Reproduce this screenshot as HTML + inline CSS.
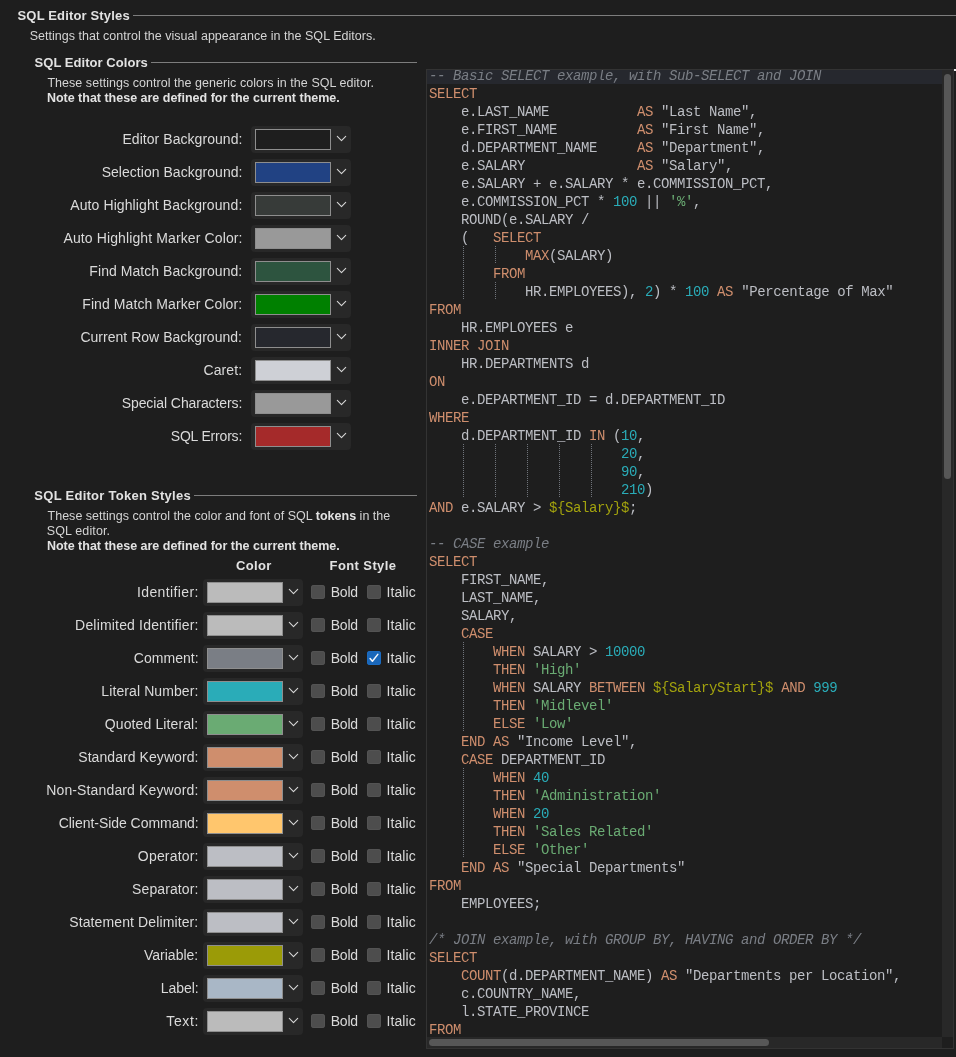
<!DOCTYPE html>
<html><head><meta charset="utf-8"><title>SQL Editor Styles</title>
<style>
html,body{margin:0;padding:0;}
html{background:#1e1e1e;}
body{width:956px;height:1057px;background:#1e1e1e;position:relative;overflow:hidden;will-change:transform;
 font-family:"Liberation Sans",sans-serif;font-size:13px;color:#dcdcdc;}
.t{position:absolute;white-space:nowrap;line-height:16px;height:16px;}
.h{font-weight:bold;color:#e2e2e2;font-size:13px;}
.d{font-size:12.5px;color:#d4d4d4;}
.d b{color:#e2e2e2;}
.db{font-size:12.5px;font-weight:bold;color:#e2e2e2;}
.l{font-size:14px;color:#dadada;}
.cl{font-size:14px;color:#dadada;}
.ln{position:absolute;height:1px;background:#7d7d7d;}
.cb{position:absolute;width:100px;height:27px;background:#282828;border-radius:4px;}
.sw{position:absolute;left:4px;top:3px;width:74px;height:19px;border:1px solid #8e8e8e;}
.cb svg{position:absolute;left:85px;top:9px;}
.ck{position:absolute;width:14px;height:14px;border-radius:3px;background:#4d4d4d;box-shadow:inset 0 0 0 1px #535353;}
.ck.on{background:#1a67b9;box-shadow:inset 0 0 0 1px #1b6cc2;}
.ck svg{position:absolute;left:0;top:0;}
#ed{position:absolute;left:426px;top:69px;width:526px;height:978px;border:1px solid #333333;overflow:hidden;background:#1e1e1e;}
#code{position:absolute;left:2px;top:-3px;margin:0;font-family:"Liberation Mono",monospace;font-size:14px;letter-spacing:-0.4px;line-height:18px;color:#bcbec4;}
#code div{height:18px;white-space:pre;}
.row{position:absolute;left:0;top:0;width:515px;height:14px;background:#26282e;}
.k{color:#cf8e6d;}.n{color:#2aacb8;}.s{color:#6aab73;}.c{color:#7a7e85;font-style:italic;}.v{color:#a2a20e;}
.g{position:absolute;width:1px;background-image:linear-gradient(to bottom,#70747b 50%,transparent 50%);background-size:1px 2px;}
.vs{position:absolute;left:515px;top:0;width:11px;height:967px;background:#282828;}
.hs{position:absolute;left:0;top:967px;width:515px;height:11px;background:#282828;}
.vt{position:absolute;left:2px;top:4px;width:7px;height:405px;border-radius:4px;background:#575757;}
.ht{position:absolute;left:2px;top:2px;width:340px;height:7px;border-radius:4px;background:#575757;}
</style></head><body>
<div class="t h" style="left:17.55px;top:8px;letter-spacing:0.157px">SQL Editor Styles</div>
<div class="ln" style="left:133px;top:15px;width:823px"></div>
<div class="t d" style="left:29.65px;top:28px;letter-spacing:0.031px">Settings that control the visual appearance in the SQL Editors.</div>
<div class="t h" style="left:34.60px;top:55px;letter-spacing:0.044px">SQL Editor Colors</div>
<div class="ln" style="left:151px;top:62px;width:266px"></div>
<div class="t d" style="left:47.38px;top:75px;letter-spacing:0.042px">These settings control the generic colors in the SQL editor.</div>
<div class="t db" style="left:46.88px;top:90px;letter-spacing:-0.005px">Note that these are defined for the current theme.</div>
<div class="t l" style="left:122.46px;top:131px;letter-spacing:0.052px">Editor Background:</div>
<div class="cb" style="left:251px;top:126px"><div class="sw" style="background:#1e1e1e"></div><svg width="11" height="7" viewBox="0 0 11 7"><path d="M1.3 1.4 L5.5 5.6 L9.7 1.4" fill="none" stroke="#d6d6d6" stroke-width="1.1" stroke-linecap="round" stroke-linejoin="round"/></svg></div>
<div class="t l" style="left:101.65px;top:164px;letter-spacing:0.036px">Selection Background:</div>
<div class="cb" style="left:251px;top:159px"><div class="sw" style="background:#214283"></div><svg width="11" height="7" viewBox="0 0 11 7"><path d="M1.3 1.4 L5.5 5.6 L9.7 1.4" fill="none" stroke="#d6d6d6" stroke-width="1.1" stroke-linecap="round" stroke-linejoin="round"/></svg></div>
<div class="t l" style="left:70.29px;top:197px;letter-spacing:0.093px">Auto Highlight Background:</div>
<div class="cb" style="left:251px;top:192px"><div class="sw" style="background:#373b39"></div><svg width="11" height="7" viewBox="0 0 11 7"><path d="M1.3 1.4 L5.5 5.6 L9.7 1.4" fill="none" stroke="#d6d6d6" stroke-width="1.1" stroke-linecap="round" stroke-linejoin="round"/></svg></div>
<div class="t l" style="left:63.50px;top:230px;letter-spacing:0.115px">Auto Highlight Marker Color:</div>
<div class="cb" style="left:251px;top:225px"><div class="sw" style="background:#999999"></div><svg width="11" height="7" viewBox="0 0 11 7"><path d="M1.3 1.4 L5.5 5.6 L9.7 1.4" fill="none" stroke="#d6d6d6" stroke-width="1.1" stroke-linecap="round" stroke-linejoin="round"/></svg></div>
<div class="t l" style="left:89.37px;top:263px;letter-spacing:0.055px">Find Match Background:</div>
<div class="cb" style="left:251px;top:258px"><div class="sw" style="background:#2d543f"></div><svg width="11" height="7" viewBox="0 0 11 7"><path d="M1.3 1.4 L5.5 5.6 L9.7 1.4" fill="none" stroke="#d6d6d6" stroke-width="1.1" stroke-linecap="round" stroke-linejoin="round"/></svg></div>
<div class="t l" style="left:82.26px;top:296px;letter-spacing:0.084px">Find Match Marker Color:</div>
<div class="cb" style="left:251px;top:291px"><div class="sw" style="background:#008000"></div><svg width="11" height="7" viewBox="0 0 11 7"><path d="M1.3 1.4 L5.5 5.6 L9.7 1.4" fill="none" stroke="#d6d6d6" stroke-width="1.1" stroke-linecap="round" stroke-linejoin="round"/></svg></div>
<div class="t l" style="left:80.44px;top:329px;letter-spacing:0.020px">Current Row Background:</div>
<div class="cb" style="left:251px;top:324px"><div class="sw" style="background:#26282e"></div><svg width="11" height="7" viewBox="0 0 11 7"><path d="M1.3 1.4 L5.5 5.6 L9.7 1.4" fill="none" stroke="#d6d6d6" stroke-width="1.1" stroke-linecap="round" stroke-linejoin="round"/></svg></div>
<div class="t l" style="left:203.46px;top:362px;letter-spacing:0.088px">Caret:</div>
<div class="cb" style="left:251px;top:357px"><div class="sw" style="background:#ced0d6"></div><svg width="11" height="7" viewBox="0 0 11 7"><path d="M1.3 1.4 L5.5 5.6 L9.7 1.4" fill="none" stroke="#d6d6d6" stroke-width="1.1" stroke-linecap="round" stroke-linejoin="round"/></svg></div>
<div class="t l" style="left:121.70px;top:395px;letter-spacing:-0.080px">Special Characters:</div>
<div class="cb" style="left:251px;top:390px"><div class="sw" style="background:#999999"></div><svg width="11" height="7" viewBox="0 0 11 7"><path d="M1.3 1.4 L5.5 5.6 L9.7 1.4" fill="none" stroke="#d6d6d6" stroke-width="1.1" stroke-linecap="round" stroke-linejoin="round"/></svg></div>
<div class="t l" style="left:170.72px;top:428px;letter-spacing:-0.177px">SQL Errors:</div>
<div class="cb" style="left:251px;top:423px"><div class="sw" style="background:#a52a2a"></div><svg width="11" height="7" viewBox="0 0 11 7"><path d="M1.3 1.4 L5.5 5.6 L9.7 1.4" fill="none" stroke="#d6d6d6" stroke-width="1.1" stroke-linecap="round" stroke-linejoin="round"/></svg></div>
<div class="t h" style="left:34.35px;top:488px;letter-spacing:0.264px">SQL Editor Token Styles</div>
<div class="ln" style="left:194px;top:495px;width:223px"></div>
<div class="t d" style="left:47.56px;top:508px;letter-spacing:0.010px">These settings control the color and font of SQL <b>tokens</b> in the</div>
<div class="t d" style="left:46.83px;top:523px;letter-spacing:0.114px">SQL editor.</div>
<div class="t db" style="left:46.88px;top:538px;letter-spacing:-0.005px">Note that these are defined for the current theme.</div>
<div class="t h" style="left:235.98px;top:558px;letter-spacing:0.330px">Color</div>
<div class="t h" style="left:329.61px;top:558px;letter-spacing:0.390px">Font Style</div>
<div class="t l" style="left:137.04px;top:584px;letter-spacing:0.368px">Identifier:</div>
<div class="cb" style="left:203px;top:579px"><div class="sw" style="background:#bbbbbb"></div><svg width="11" height="7" viewBox="0 0 11 7"><path d="M1.3 1.4 L5.5 5.6 L9.7 1.4" fill="none" stroke="#d6d6d6" stroke-width="1.1" stroke-linecap="round" stroke-linejoin="round"/></svg></div>
<div class="ck" style="left:311px;top:585px"></div>
<div class="t cl" style="left:330.66px;top:584px;letter-spacing:-0.173px">Bold</div>
<div class="ck" style="left:367px;top:585px"></div>
<div class="t cl" style="left:386.44px;top:584px;letter-spacing:0.114px">Italic</div>
<div class="t l" style="left:75.11px;top:617px;letter-spacing:0.177px">Delimited Identifier:</div>
<div class="cb" style="left:203px;top:612px"><div class="sw" style="background:#bbbbbb"></div><svg width="11" height="7" viewBox="0 0 11 7"><path d="M1.3 1.4 L5.5 5.6 L9.7 1.4" fill="none" stroke="#d6d6d6" stroke-width="1.1" stroke-linecap="round" stroke-linejoin="round"/></svg></div>
<div class="ck" style="left:311px;top:618px"></div>
<div class="t cl" style="left:330.66px;top:617px;letter-spacing:-0.173px">Bold</div>
<div class="ck" style="left:367px;top:618px"></div>
<div class="t cl" style="left:386.44px;top:617px;letter-spacing:0.114px">Italic</div>
<div class="t l" style="left:133.77px;top:650px;letter-spacing:0.039px">Comment:</div>
<div class="cb" style="left:203px;top:645px"><div class="sw" style="background:#7a7e85"></div><svg width="11" height="7" viewBox="0 0 11 7"><path d="M1.3 1.4 L5.5 5.6 L9.7 1.4" fill="none" stroke="#d6d6d6" stroke-width="1.1" stroke-linecap="round" stroke-linejoin="round"/></svg></div>
<div class="ck" style="left:311px;top:651px"></div>
<div class="t cl" style="left:330.66px;top:650px;letter-spacing:-0.173px">Bold</div>
<div class="ck on" style="left:367px;top:651px"><svg width="14" height="14" viewBox="0 0 14 14"><path d="M3.1 7.5 L5.4 10.2 L10.8 3.4" fill="none" stroke="#f4f7fb" stroke-width="1.5" stroke-linecap="round" stroke-linejoin="round"/></svg></div>
<div class="t cl" style="left:386.44px;top:650px;letter-spacing:0.114px">Italic</div>
<div class="t l" style="left:101.31px;top:683px;letter-spacing:0.101px">Literal Number:</div>
<div class="cb" style="left:203px;top:678px"><div class="sw" style="background:#2aacb8"></div><svg width="11" height="7" viewBox="0 0 11 7"><path d="M1.3 1.4 L5.5 5.6 L9.7 1.4" fill="none" stroke="#d6d6d6" stroke-width="1.1" stroke-linecap="round" stroke-linejoin="round"/></svg></div>
<div class="ck" style="left:311px;top:684px"></div>
<div class="t cl" style="left:330.66px;top:683px;letter-spacing:-0.173px">Bold</div>
<div class="ck" style="left:367px;top:684px"></div>
<div class="t cl" style="left:386.44px;top:683px;letter-spacing:0.114px">Italic</div>
<div class="t l" style="left:104.83px;top:716px;letter-spacing:0.108px">Quoted Literal:</div>
<div class="cb" style="left:203px;top:711px"><div class="sw" style="background:#6aab73"></div><svg width="11" height="7" viewBox="0 0 11 7"><path d="M1.3 1.4 L5.5 5.6 L9.7 1.4" fill="none" stroke="#d6d6d6" stroke-width="1.1" stroke-linecap="round" stroke-linejoin="round"/></svg></div>
<div class="ck" style="left:311px;top:717px"></div>
<div class="t cl" style="left:330.66px;top:716px;letter-spacing:-0.173px">Bold</div>
<div class="ck" style="left:367px;top:717px"></div>
<div class="t cl" style="left:386.44px;top:716px;letter-spacing:0.114px">Italic</div>
<div class="t l" style="left:78.22px;top:749px;letter-spacing:0.073px">Standard Keyword:</div>
<div class="cb" style="left:203px;top:744px"><div class="sw" style="background:#cf8e6d"></div><svg width="11" height="7" viewBox="0 0 11 7"><path d="M1.3 1.4 L5.5 5.6 L9.7 1.4" fill="none" stroke="#d6d6d6" stroke-width="1.1" stroke-linecap="round" stroke-linejoin="round"/></svg></div>
<div class="ck" style="left:311px;top:750px"></div>
<div class="t cl" style="left:330.66px;top:749px;letter-spacing:-0.173px">Bold</div>
<div class="ck" style="left:367px;top:750px"></div>
<div class="t cl" style="left:386.44px;top:749px;letter-spacing:0.114px">Italic</div>
<div class="t l" style="left:46.21px;top:782px;letter-spacing:0.140px">Non-Standard Keyword:</div>
<div class="cb" style="left:203px;top:777px"><div class="sw" style="background:#cf8e6d"></div><svg width="11" height="7" viewBox="0 0 11 7"><path d="M1.3 1.4 L5.5 5.6 L9.7 1.4" fill="none" stroke="#d6d6d6" stroke-width="1.1" stroke-linecap="round" stroke-linejoin="round"/></svg></div>
<div class="ck" style="left:311px;top:783px"></div>
<div class="t cl" style="left:330.66px;top:782px;letter-spacing:-0.173px">Bold</div>
<div class="ck" style="left:367px;top:783px"></div>
<div class="t cl" style="left:386.44px;top:782px;letter-spacing:0.114px">Italic</div>
<div class="t l" style="left:58.74px;top:815px;letter-spacing:-0.043px">Client-Side Command:</div>
<div class="cb" style="left:203px;top:810px"><div class="sw" style="background:#ffc66d"></div><svg width="11" height="7" viewBox="0 0 11 7"><path d="M1.3 1.4 L5.5 5.6 L9.7 1.4" fill="none" stroke="#d6d6d6" stroke-width="1.1" stroke-linecap="round" stroke-linejoin="round"/></svg></div>
<div class="ck" style="left:311px;top:816px"></div>
<div class="t cl" style="left:330.66px;top:815px;letter-spacing:-0.173px">Bold</div>
<div class="ck" style="left:367px;top:816px"></div>
<div class="t cl" style="left:386.44px;top:815px;letter-spacing:0.114px">Italic</div>
<div class="t l" style="left:137.85px;top:848px;letter-spacing:0.188px">Operator:</div>
<div class="cb" style="left:203px;top:843px"><div class="sw" style="background:#bcbec4"></div><svg width="11" height="7" viewBox="0 0 11 7"><path d="M1.3 1.4 L5.5 5.6 L9.7 1.4" fill="none" stroke="#d6d6d6" stroke-width="1.1" stroke-linecap="round" stroke-linejoin="round"/></svg></div>
<div class="ck" style="left:311px;top:849px"></div>
<div class="t cl" style="left:330.66px;top:848px;letter-spacing:-0.173px">Bold</div>
<div class="ck" style="left:367px;top:849px"></div>
<div class="t cl" style="left:386.44px;top:848px;letter-spacing:0.114px">Italic</div>
<div class="t l" style="left:132.11px;top:881px;letter-spacing:0.088px">Separator:</div>
<div class="cb" style="left:203px;top:876px"><div class="sw" style="background:#bcbec4"></div><svg width="11" height="7" viewBox="0 0 11 7"><path d="M1.3 1.4 L5.5 5.6 L9.7 1.4" fill="none" stroke="#d6d6d6" stroke-width="1.1" stroke-linecap="round" stroke-linejoin="round"/></svg></div>
<div class="ck" style="left:311px;top:882px"></div>
<div class="t cl" style="left:330.66px;top:881px;letter-spacing:-0.173px">Bold</div>
<div class="ck" style="left:367px;top:882px"></div>
<div class="t cl" style="left:386.44px;top:881px;letter-spacing:0.114px">Italic</div>
<div class="t l" style="left:69.18px;top:914px;letter-spacing:0.117px">Statement Delimiter:</div>
<div class="cb" style="left:203px;top:909px"><div class="sw" style="background:#bcbec4"></div><svg width="11" height="7" viewBox="0 0 11 7"><path d="M1.3 1.4 L5.5 5.6 L9.7 1.4" fill="none" stroke="#d6d6d6" stroke-width="1.1" stroke-linecap="round" stroke-linejoin="round"/></svg></div>
<div class="ck" style="left:311px;top:915px"></div>
<div class="t cl" style="left:330.66px;top:914px;letter-spacing:-0.173px">Bold</div>
<div class="ck" style="left:367px;top:915px"></div>
<div class="t cl" style="left:386.44px;top:914px;letter-spacing:0.114px">Italic</div>
<div class="t l" style="left:144.03px;top:947px;letter-spacing:-0.000px">Variable:</div>
<div class="cb" style="left:203px;top:942px"><div class="sw" style="background:#9b9b07"></div><svg width="11" height="7" viewBox="0 0 11 7"><path d="M1.3 1.4 L5.5 5.6 L9.7 1.4" fill="none" stroke="#d6d6d6" stroke-width="1.1" stroke-linecap="round" stroke-linejoin="round"/></svg></div>
<div class="ck" style="left:311px;top:948px"></div>
<div class="t cl" style="left:330.66px;top:947px;letter-spacing:-0.173px">Bold</div>
<div class="ck" style="left:367px;top:948px"></div>
<div class="t cl" style="left:386.44px;top:947px;letter-spacing:0.114px">Italic</div>
<div class="t l" style="left:160.66px;top:980px;letter-spacing:-0.035px">Label:</div>
<div class="cb" style="left:203px;top:975px"><div class="sw" style="background:#a9b7c6"></div><svg width="11" height="7" viewBox="0 0 11 7"><path d="M1.3 1.4 L5.5 5.6 L9.7 1.4" fill="none" stroke="#d6d6d6" stroke-width="1.1" stroke-linecap="round" stroke-linejoin="round"/></svg></div>
<div class="ck" style="left:311px;top:981px"></div>
<div class="t cl" style="left:330.66px;top:980px;letter-spacing:-0.173px">Bold</div>
<div class="ck" style="left:367px;top:981px"></div>
<div class="t cl" style="left:386.44px;top:980px;letter-spacing:0.114px">Italic</div>
<div class="t l" style="left:166.31px;top:1013px;letter-spacing:0.606px">Text:</div>
<div class="cb" style="left:203px;top:1008px"><div class="sw" style="background:#bbbbbb"></div><svg width="11" height="7" viewBox="0 0 11 7"><path d="M1.3 1.4 L5.5 5.6 L9.7 1.4" fill="none" stroke="#d6d6d6" stroke-width="1.1" stroke-linecap="round" stroke-linejoin="round"/></svg></div>
<div class="ck" style="left:311px;top:1014px"></div>
<div class="t cl" style="left:330.66px;top:1013px;letter-spacing:-0.173px">Bold</div>
<div class="ck" style="left:367px;top:1014px"></div>
<div class="t cl" style="left:386.44px;top:1013px;letter-spacing:0.114px">Italic</div>
<div id="ed"><div class="row"></div>
<div class="g" style="left:36px;top:176px;height:54px"></div>
<div class="g" style="left:68px;top:176px;height:18px"></div>
<div class="g" style="left:68px;top:212px;height:18px"></div>
<div class="g" style="left:36px;top:374px;height:54px"></div>
<div class="g" style="left:68px;top:374px;height:54px"></div>
<div class="g" style="left:100px;top:374px;height:54px"></div>
<div class="g" style="left:132px;top:374px;height:54px"></div>
<div class="g" style="left:164px;top:374px;height:54px"></div>
<div class="g" style="left:36px;top:572px;height:90px"></div>
<div class="g" style="left:36px;top:698px;height:90px"></div>
<div id="code">
<div><span class="c">-- Basic SELECT example, with Sub-SELECT and JOIN</span></div>
<div><span class="k">SELECT</span></div>
<div>    e.LAST_NAME           <span class="k">AS</span> "Last Name",</div>
<div>    e.FIRST_NAME          <span class="k">AS</span> "First Name",</div>
<div>    d.DEPARTMENT_NAME     <span class="k">AS</span> "Department",</div>
<div>    e.SALARY              <span class="k">AS</span> "Salary",</div>
<div>    e.SALARY + e.SALARY * e.COMMISSION_PCT,</div>
<div>    e.COMMISSION_PCT * <span class="n">100</span> || <span class="s">'%'</span>,</div>
<div>    ROUND(e.SALARY /</div>
<div>    (   <span class="k">SELECT</span></div>
<div>            <span class="k">MAX</span>(SALARY)</div>
<div>        <span class="k">FROM</span></div>
<div>            HR.EMPLOYEES), <span class="n">2</span>) * <span class="n">100</span> <span class="k">AS</span> "Percentage of Max"</div>
<div><span class="k">FROM</span></div>
<div>    HR.EMPLOYEES e</div>
<div><span class="k">INNER JOIN</span></div>
<div>    HR.DEPARTMENTS d</div>
<div><span class="k">ON</span></div>
<div>    e.DEPARTMENT_ID = d.DEPARTMENT_ID</div>
<div><span class="k">WHERE</span></div>
<div>    d.DEPARTMENT_ID <span class="k">IN</span> (<span class="n">10</span>,</div>
<div>                        <span class="n">20</span>,</div>
<div>                        <span class="n">90</span>,</div>
<div>                        <span class="n">210</span>)</div>
<div><span class="k">AND</span> e.SALARY &gt; <span class="v">${Salary}$</span>;</div>
<div></div>
<div><span class="c">-- CASE example</span></div>
<div><span class="k">SELECT</span></div>
<div>    FIRST_NAME,</div>
<div>    LAST_NAME,</div>
<div>    SALARY,</div>
<div>    <span class="k">CASE</span></div>
<div>        <span class="k">WHEN</span> SALARY &gt; <span class="n">10000</span></div>
<div>        <span class="k">THEN</span> <span class="s">'High'</span></div>
<div>        <span class="k">WHEN</span> SALARY <span class="k">BETWEEN</span> <span class="v">${SalaryStart}$</span> <span class="k">AND</span> <span class="n">999</span></div>
<div>        <span class="k">THEN</span> <span class="s">'Midlevel'</span></div>
<div>        <span class="k">ELSE</span> <span class="s">'Low'</span></div>
<div>    <span class="k">END AS</span> "Income Level",</div>
<div>    <span class="k">CASE</span> DEPARTMENT_ID</div>
<div>        <span class="k">WHEN</span> <span class="n">40</span></div>
<div>        <span class="k">THEN</span> <span class="s">'Administration'</span></div>
<div>        <span class="k">WHEN</span> <span class="n">20</span></div>
<div>        <span class="k">THEN</span> <span class="s">'Sales Related'</span></div>
<div>        <span class="k">ELSE</span> <span class="s">'Other'</span></div>
<div>    <span class="k">END AS</span> "Special Departments"</div>
<div><span class="k">FROM</span></div>
<div>    EMPLOYEES;</div>
<div></div>
<div><span class="c">/* JOIN example, with GROUP BY, HAVING and ORDER BY */</span></div>
<div><span class="k">SELECT</span></div>
<div>    <span class="k">COUNT</span>(d.DEPARTMENT_NAME) <span class="k">AS</span> "Departments per Location",</div>
<div>    c.COUNTRY_NAME,</div>
<div>    l.STATE_PROVINCE</div>
<div><span class="k">FROM</span></div>
</div>
<div class="vs"><div class="vt"></div></div><div class="hs"><div class="ht"></div></div>
</div>
<div style="position:absolute;left:954px;top:69px;width:2px;height:2px;background:#f0f0f0"></div>
</body></html>
